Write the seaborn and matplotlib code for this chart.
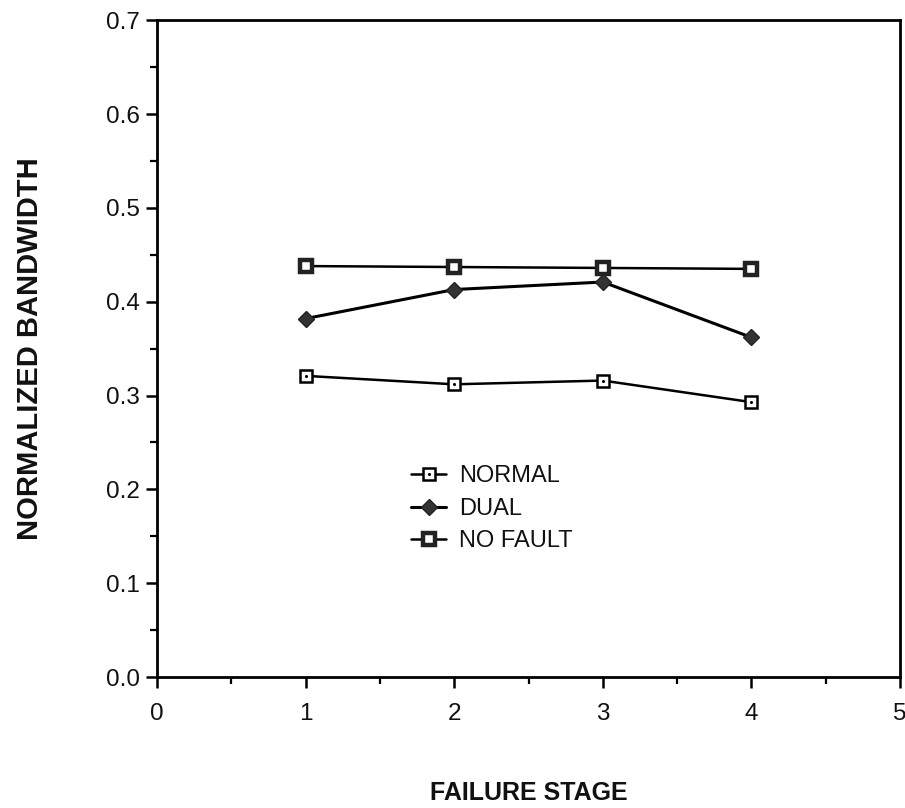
import matplotlib
matplotlib.use("Agg")
import matplotlib.pyplot as plt
from matplotlib.lines import Line2D
from matplotlib.ticker import MultipleLocator
import seaborn as sns
import pandas as pd

# Bandwidth per failure stage for each routing scheme
stages = [1, 2, 3, 4]
normal = [0.321, 0.312, 0.316, 0.293]
dual = [0.382, 0.413, 0.421, 0.362]
no_fault = [0.438, 0.437, 0.436, 0.435]
series_names = ["NORMAL", "DUAL", "NO FAULT"]

sns.set_theme(style="white")
plt.rcParams["font.family"] = ["Liberation Sans", "DejaVu Sans"]

fig = plt.figure(figsize=(9.05, 8.08), dpi=100)
ax = fig.add_axes([0.1735, 0.162, 0.821, 0.813])

df_normal = pd.DataFrame({"stage": stages, "bw": normal})
df_dual = pd.DataFrame({"stage": stages, "bw": dual})
df_nf = pd.DataFrame({"stage": stages, "bw": no_fault})

sq_style = dict(marker="s", markersize=8.5, markerfacecolor="white",
                markeredgecolor="black", markeredgewidth=1.8)
nf_style = dict(marker="s", markersize=8.5, markerfacecolor="white",
                markeredgecolor="#222222", markeredgewidth=3.2)
dm_style = dict(marker="D", markersize=8, markerfacecolor="#333333",
                markeredgecolor="#222222", markeredgewidth=1)

sns.lineplot(data=df_normal, x="stage", y="bw", ax=ax, color="black",
             linewidth=1.8, **sq_style)
sns.lineplot(data=df_normal, x="stage", y="bw", ax=ax, color="black",
             linestyle="none", marker="o", markersize=2.2, markeredgewidth=0)
sns.lineplot(data=df_dual, x="stage", y="bw", ax=ax, color="black",
             linewidth=2.2, **dm_style)
sns.lineplot(data=df_nf, x="stage", y="bw", ax=ax, color="black",
             linewidth=1.8, **nf_style)

ax.set_xlim(0, 5)
ax.set_ylim(0, 0.7)
ax.xaxis.set_major_locator(MultipleLocator(1))
ax.xaxis.set_minor_locator(MultipleLocator(0.5))
ax.yaxis.set_major_locator(MultipleLocator(0.1))
ax.yaxis.set_minor_locator(MultipleLocator(0.05))
ax.set_xticklabels([f"{int(v)}" for v in ax.get_xticks()])
ax.set_yticklabels([f"{v:.1f}" for v in ax.get_yticks()])

for side in ["left", "right", "top", "bottom"]:
    ax.spines[side].set_visible(True)
    ax.spines[side].set_color("black")
    ax.spines[side].set_linewidth(2.0)

ax.tick_params(axis="both", which="major", direction="out", length=8,
               width=1.8, color="black", labelsize=17.5, labelcolor="#111111")
ax.tick_params(axis="both", which="minor", direction="out", length=5,
               width=1.6, color="black")
ax.tick_params(axis="x", which="major", pad=11)
ax.tick_params(axis="y", which="major", pad=4)
ax.tick_params(left=True, bottom=True, which="both")

ax.set_xlabel("FAILURE STAGE", fontsize=18, fontweight="bold",
              color="#111111", labelpad=40)
ax.set_ylabel("NORMALIZED BANDWIDTH", fontsize=21, fontweight="bold",
              color="#111111", labelpad=45)

h_normal = (Line2D([0], [0], color="black", linewidth=1.8, **sq_style),
            Line2D([0], [0], color="black", linestyle="none", marker="o",
                   markersize=2.2, markeredgewidth=0))
h_dual = Line2D([0], [0], color="black", linewidth=2.2, **dm_style)
h_nf = Line2D([0], [0], color="black", linewidth=1.8, **nf_style)

leg = ax.legend([h_normal, h_dual, h_nf], series_names, loc="upper left",
                bbox_to_anchor=(0.313, 0.355), frameon=False, fontsize=17,
                handlelength=1.5, handletextpad=0.55, labelspacing=0.45)
for t in leg.get_texts():
    t.set_color("#111111")

fig.savefig("out.png", dpi=100)
